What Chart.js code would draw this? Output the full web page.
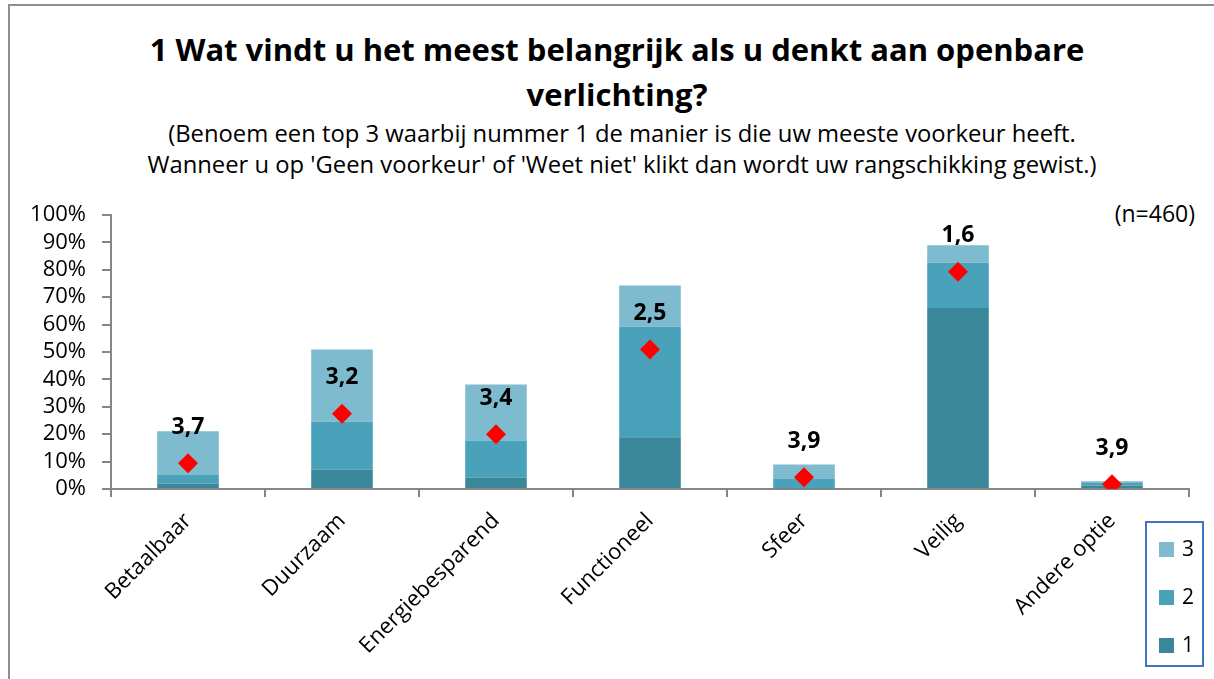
<!DOCTYPE html>
<html>
<head>
<meta charset="utf-8">
<script src="https://cdn.jsdelivr.net/npm/chart.js@4/dist/chart.umd.min.js"></script>
<style>
  body { margin: 0; background: #fff; font-family: 'Open Sans', Lato, sans-serif; color: #000; }
  #wrap { position: relative; width: 1214px; height: 679px; overflow: hidden; }
  #frame { position: absolute; left: 8px; top: 4px; width: 1300px; height: 800px;
           border-left: 2px solid #8e8e8e; border-top: 2px solid #8e8e8e; }
  #title { position: absolute; left: 9px; width: 1216px; top: 27px; text-align: center;
           font-weight: bold; font-size: 31px; line-height: 45px; }
  #subtitle { position: absolute; left: 9px; width: 1226px; top: 118px; text-align: center;
              font-size: 23.8px; line-height: 31px; }
  #n { position: absolute; right: 19px; top: 197px; font-size: 23px; }
  canvas { position: absolute; left: 0; top: 0; }
  #legend { position: absolute; left: 1145px; top: 521px; width: 55px; height: 142px;
            border: 2px solid #4472c4; }
  .item { position: absolute; left: 12px; font-size: 21px; line-height: 24px; }
  .item span { display: inline-block; width: 15px; height: 15px; margin-right: 8px; vertical-align: -1px; }
</style>
</head>
<body>
<div id="wrap">
  <div id="frame"></div>
  <div id="title">1 Wat vindt u het meest belangrijk als u denkt aan openbare<br>verlichting?</div>
  <div id="subtitle">(Benoem een top 3 waarbij nummer 1 de manier is die uw meeste voorkeur heeft.<br>Wanneer u op 'Geen voorkeur' of 'Weet niet' klikt dan wordt uw rangschikking gewist.)</div>
  <div id="n">(n=460)</div>
  <canvas id="chart" width="1214" height="679"></canvas>
  <div id="legend"></div>
</div>
<script>
// categorieën en waarden (percentages)
const categories = ['Betaalbaar', 'Duurzaam', 'Energiebesparend', 'Functioneel', 'Sfeer', 'Veilig', 'Andere optie'];
const rank1 = [1.9, 7.1, 4.1, 18.9, 0.3, 66.1, 1.3];
const rank2 = [3.2, 17.4, 13.6, 40.3, 3.5, 16.5, 0.9];
const rank3 = [16.0, 26.4, 20.4, 15.1, 5.1, 6.4, 0.6];
const markerPos = [9.4, 27.5, 20.0, 50.9, 4.3, 79.3, 1.7];
const meanRank = [3.7, 3.2, 3.4, 2.5, 3.9, 1.6, 3.9];
const yTicks = [0, 10, 20, 30, 40, 50, 60, 70, 80, 90, 100];

const colors = { '1': '#3a8799', '2': '#49a2ba', '3': '#7fbbcf' };
const FONT = "'Open Sans', Lato, sans-serif";
const axisGrey = '#868686';

// rapportcijfer boven de ruit
const rankLabels = {
  id: 'rankLabels',
  afterDatasetsDraw(chart) {
    const meta = chart.getDatasetMeta(0);
    const ctx = chart.ctx;
    ctx.save();
    ctx.font = 'bold 23px ' + FONT;
    ctx.fillStyle = '#000';
    ctx.textAlign = 'center';
    ctx.textBaseline = 'middle';
    meta.data.forEach((pt, i) => {
      ctx.fillText(meanRank[i].toFixed(1).replace('.', ','), pt.x, pt.y - 36);
    });
    ctx.restore();
  }
};

const chart = new Chart(document.getElementById('chart'), {
  type: 'bar',
  data: {
    labels: categories,
    datasets: [
      {
        type: 'line', label: 'gem', data: markerPos, stack: 'gem', order: 0,
        showLine: false, pointStyle: 'rectRot', pointRadius: 10, pointHoverRadius: 10,
        backgroundColor: '#ff0000', borderColor: '#ff0000', borderWidth: 0,
      },
      { label: '1', data: rank1, backgroundColor: colors['1'], stack: 'r', order: 1 },
      { label: '2', data: rank2, backgroundColor: colors['2'], stack: 'r', order: 1 },
      { label: '3', data: rank3, backgroundColor: colors['3'], stack: 'r', order: 1 },
    ],
  },
  options: {
    responsive: false,
    animation: false,
    barPercentage: 0.4,
    categoryPercentage: 1,
    layout: { padding: { top: 215, left: 0, right: 25, bottom: 0 } },
    plugins: { legend: { display: false }, tooltip: { enabled: false } },
    scales: {
      x: {
        stacked: true,
        grid: { display: true, drawOnChartArea: false, offset: true, tickLength: 8, color: axisGrey, lineWidth: 2 },
        border: { color: axisGrey, width: 2 },
        ticks: { color: '#000', font: { family: FONT, size: 22 }, minRotation: 45, maxRotation: 45, padding: 11, autoSkip: false },
        afterFit: s => { s.height = 190; },
      },
      y: {
        stacked: true, min: 0, max: 100,
        grid: { display: true, drawOnChartArea: false, tickLength: 9, color: axisGrey, lineWidth: 2 },
        border: { color: axisGrey, width: 2 },
        afterBuildTicks: s => { s.ticks = yTicks.map(v => ({ value: v })); },
        ticks: { color: '#000', font: { family: FONT, size: 22 }, padding: 16, autoSkip: false, callback: v => v + '%' },
        afterFit: s => { s.width = 111; },
      },
    },
  },
  plugins: [rankLabels],
});

// legenda (3 boven, 1 onder)
const legend = document.getElementById('legend');
['3', '2', '1'].forEach((k, i) => {
  const d = document.createElement('div');
  d.className = 'item';
  d.style.top = (13 + i * 48) + 'px';
  d.innerHTML = '<span style="background:' + colors[k] + '"></span>' + k;
  legend.appendChild(d);
});
</script>
</body>
</html>
